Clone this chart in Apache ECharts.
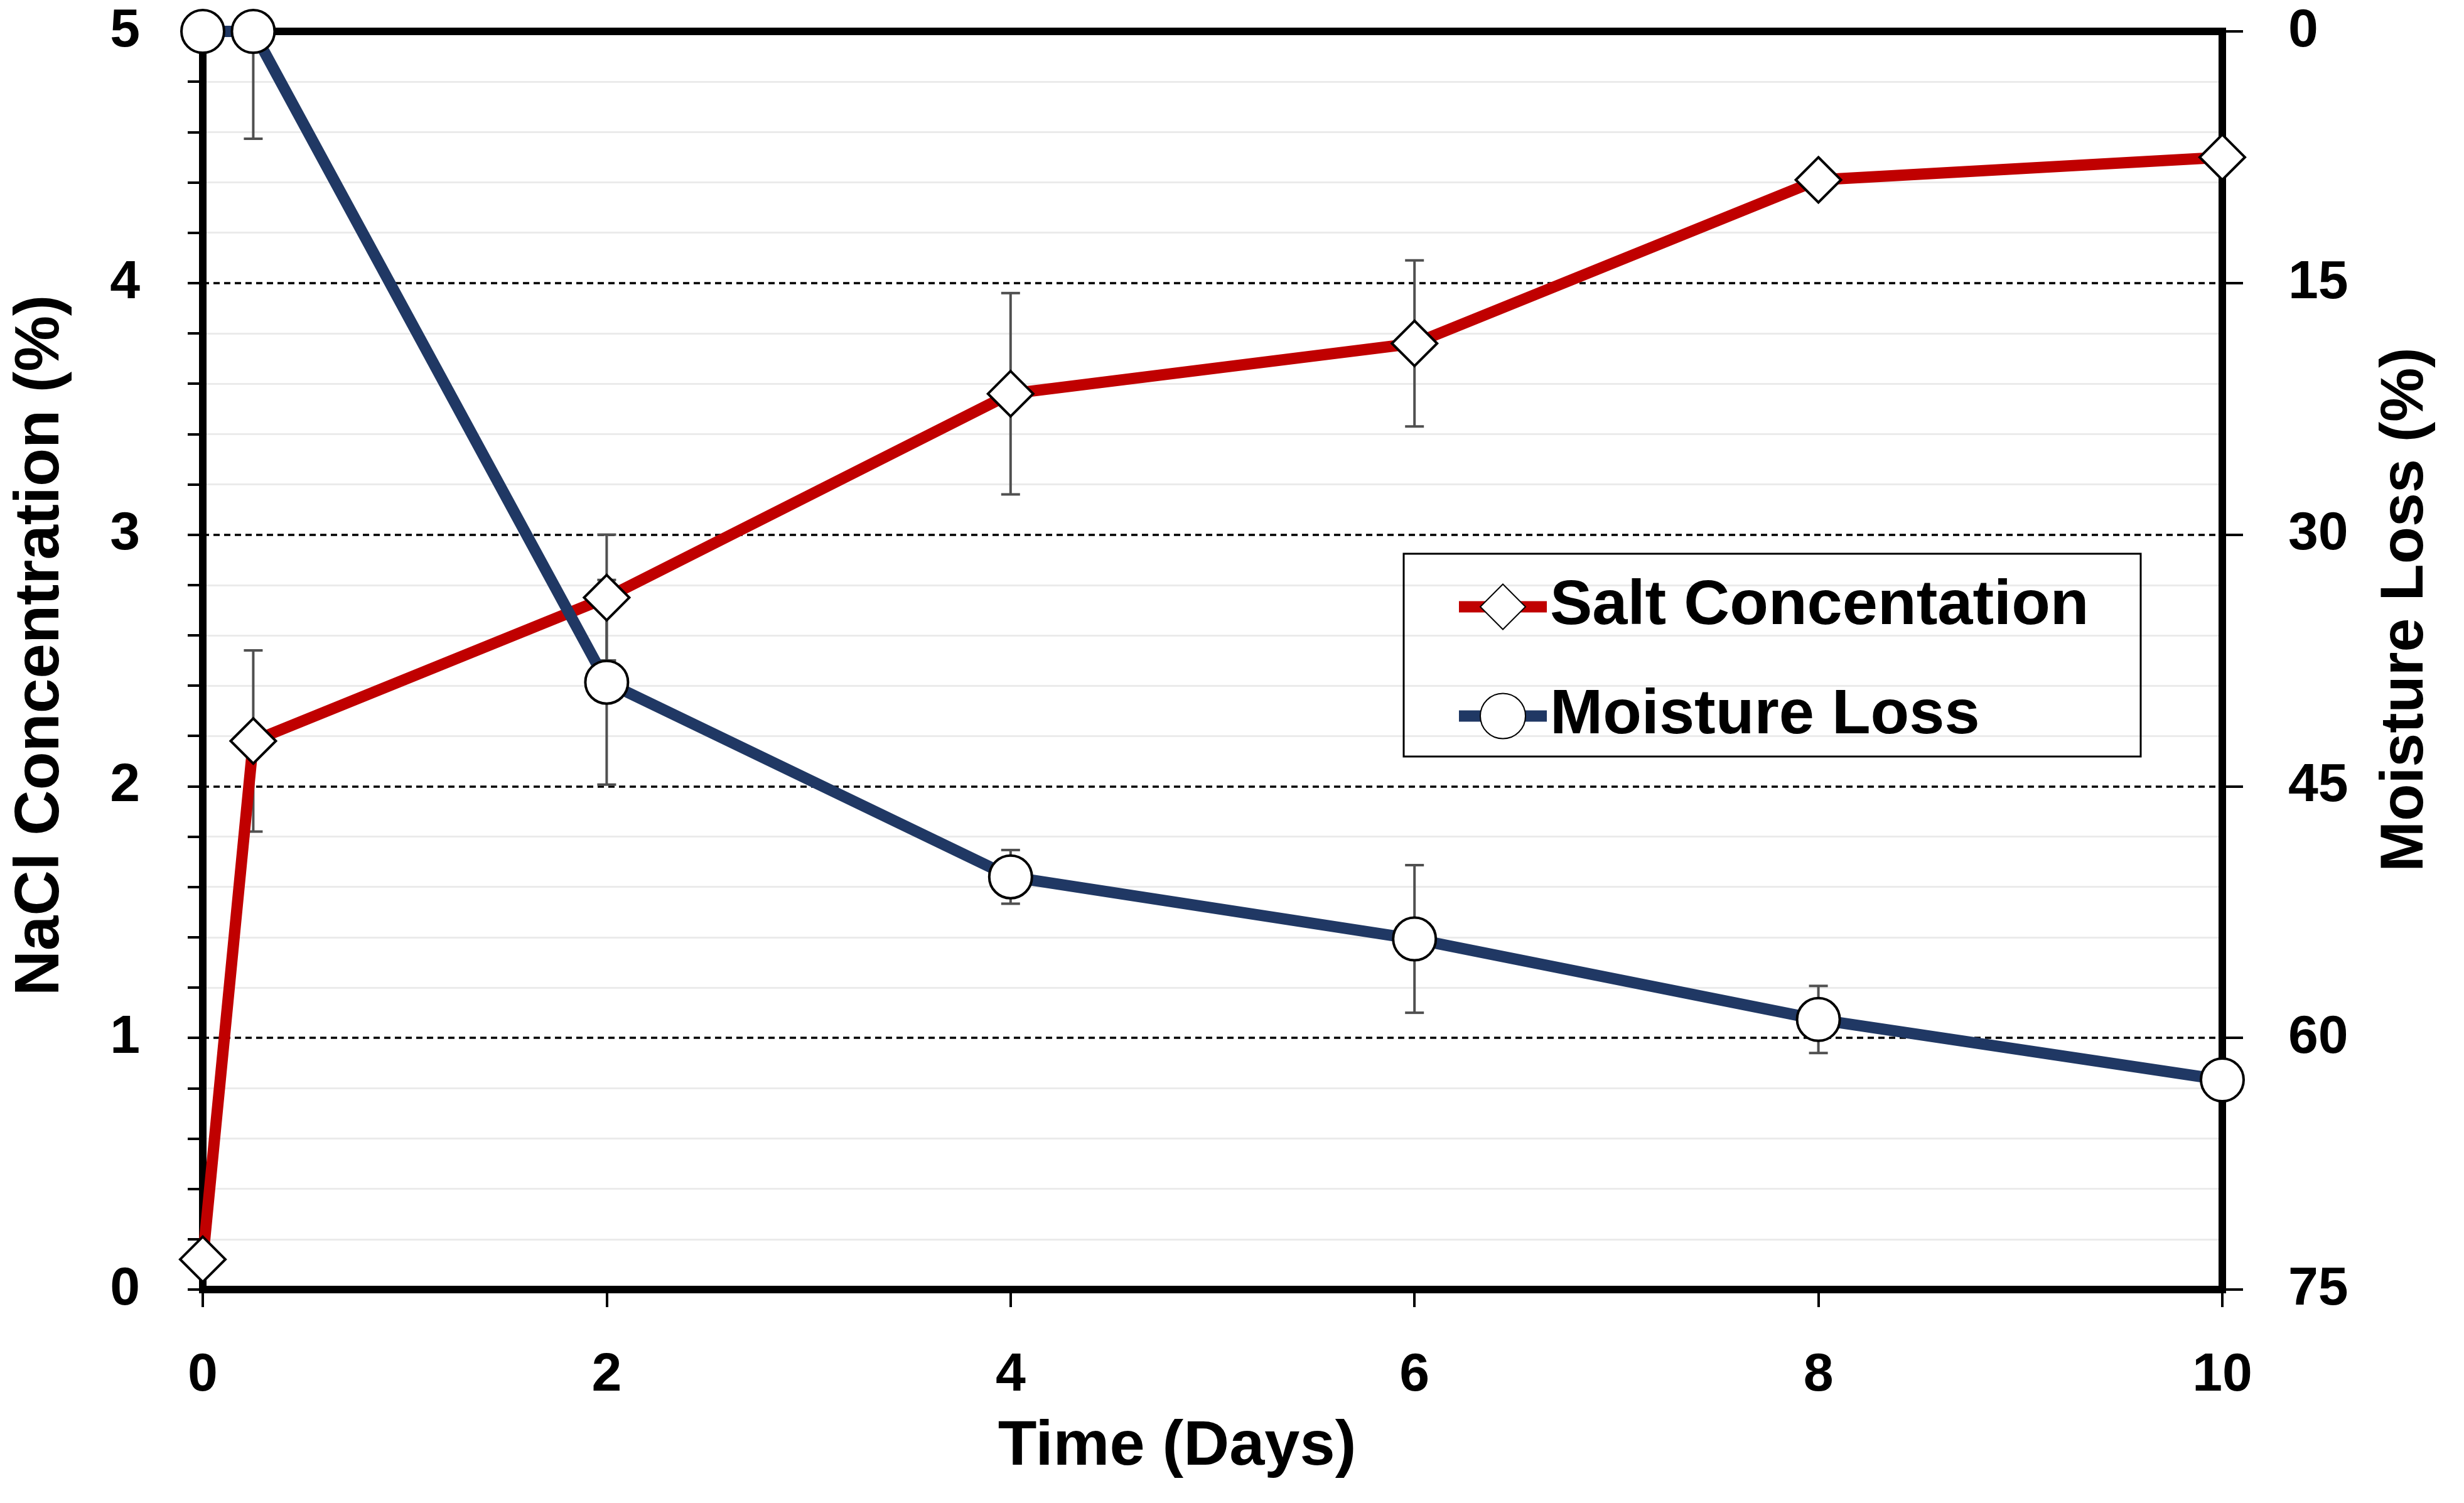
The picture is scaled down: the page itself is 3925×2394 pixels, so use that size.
<!DOCTYPE html>
<html>
<head>
<meta charset="utf-8">
<script src="https://cdn.jsdelivr.net/npm/echarts@6/dist/echarts.min.js"></script>
<style>
html,body{margin:0;padding:0;background:#fff;}
#chart{width:3925px;height:2394px;}
</style>
</head>
<body>
<div id="chart"></div>
<script>
// ---- data ----
const days = [0, 0.25, 2, 4, 6, 8, 10];
const saltConcentration = [0.12, 2.18, 2.75, 3.56, 3.76, 4.41, 4.50];
const saltError = [0, 0.36, 0.25, 0.40, 0.33, 0, 0];
const moistureLoss = [0, 0, 38.8, 50.4, 54.1, 58.9, 62.5];
const moistureError = [0, 6.4, 6.1, 1.6, 4.4, 2.0, 0];
const seriesNames = ['Salt Concentation', 'Moisture Loss'];
const axisTitles = { x: 'Time (Days)', left: 'NaCl Concentration (%)', right: 'Moisture Loss (%)' };

const FONT = "'Liberation Sans', Arial, sans-serif";
const RED = '#C00000';
const BLUE = '#203864';

const saltPts = days.map((d, i) => [d, saltConcentration[i]]);
const moistPts = days.map((d, i) => [d, moistureLoss[i]]);
const saltErr = days.map((d, i) => [d, saltConcentration[i] - saltError[i], saltConcentration[i] + saltError[i]]).filter((r, i) => saltError[i] > 0);
const moistErr = days.map((d, i) => [d, moistureLoss[i] - moistureError[i], moistureLoss[i] + moistureError[i]]).filter((r, i) => moistureError[i] > 0);

function renderErr(params, api) {
  const x = api.value(0), lo = api.value(1), hi = api.value(2);
  const p1 = api.coord([x, hi]);
  const p2 = api.coord([x, lo]);
  const w = 15;
  const st = { stroke: '#505050', lineWidth: 4 };
  return {
    type: 'group',
    children: [
      { type: 'line', shape: { x1: p1[0], y1: p1[1], x2: p2[0], y2: p2[1] }, style: st },
      { type: 'line', shape: { x1: p1[0] - w, y1: p1[1], x2: p1[0] + w, y2: p1[1] }, style: st },
      { type: 'line', shape: { x1: p2[0] - w, y1: p2[1], x2: p2[0] + w, y2: p2[1] }, style: st }
    ]
  };
}

const chart = echarts.init(document.getElementById('chart'), null, { renderer: 'canvas' });
const labelStyle = { color: '#000', fontFamily: FONT, fontWeight: 'bold', fontSize: 86 };

chart.setOption({
  backgroundColor: '#fff',
  animation: false,
  grid: { left: 323, right: 385, top: 50, bottom: 340, show: true, borderColor: '#000', borderWidth: 12, backgroundColor: 'transparent' },
  xAxis: {
    type: 'value', min: 0, max: 10, interval: 2,
    axisLine: { show: true, onZero: false, lineStyle: { color: '#000', width: 12 } },
    axisTick: { show: true, inside: false, length: 28, lineStyle: { color: '#000', width: 4 } },
    axisLabel: Object.assign({ margin: 94 }, labelStyle),
    splitLine: { show: false }
  },
  yAxis: [
    {
      type: 'value', min: 0, max: 5, interval: 1, position: 'left',
      axisLine: { show: true, lineStyle: { color: '#000', width: 12 } },
      axisTick: { show: true, inside: false, length: 24, lineStyle: { color: '#000', width: 4 } },
      minorTick: { show: true, splitNumber: 5, length: 24, lineStyle: { color: '#000', width: 4 } },
      axisLabel: Object.assign({ margin: 100 }, labelStyle),
      splitLine: { show: true, lineStyle: { color: '#000', width: 3.5, type: [10, 7] } },
      minorSplitLine: { show: true, lineStyle: { color: '#ebebeb', width: 3 } }
    },
    {
      type: 'value', min: 0, max: 75, interval: 15, position: 'right', inverse: true,
      axisLine: { show: true, lineStyle: { color: '#000', width: 12 } },
      axisTick: { show: true, inside: false, length: 33, lineStyle: { color: '#000', width: 4 } },
      axisLabel: Object.assign({ margin: 105 }, labelStyle),
      splitLine: { show: false }
    }
  ],
  legend: {
    orient: 'vertical', left: 2315, top: 916,
    itemWidth: 140, itemHeight: 90, itemGap: 73, padding: 0,
    lineStyle: { width: 18 },
    textStyle: { color: '#000', fontFamily: FONT, fontWeight: 'bold', fontSize: 101 },
    data: [
      { name: seriesNames[0], lineStyle: { color: RED, width: 18 } },
      { name: seriesNames[1], lineStyle: { color: BLUE, width: 18 } }
    ]
  },
  graphic: [
    { type: 'rect', shape: { x: 2236, y: 882, width: 1174, height: 323 }, style: { fill: 'rgba(0,0,0,0)', stroke: '#000', lineWidth: 3 }, z: 100, silent: true },
    { type: 'text', x: 1875, y: 2305, style: { text: axisTitles.x, fill: '#000', font: 'bold 101px ' + FONT, align: 'center', verticalAlign: 'middle' } },
    { type: 'text', x: 65, y: 1028, rotation: Math.PI / 2, style: { text: axisTitles.left, fill: '#000', font: 'bold 100px ' + FONT, align: 'center', verticalAlign: 'middle' } },
    { type: 'text', x: 3832, y: 971, rotation: Math.PI / 2, style: { text: axisTitles.right, fill: '#000', font: 'bold 97px ' + FONT, align: 'center', verticalAlign: 'middle' } }
  ],
  series: [
    {
      type: 'custom', name: 'saltErr', xAxisIndex: 0, yAxisIndex: 0, z: 1,
      renderItem: renderErr, data: saltErr, encode: { x: 0, y: [1, 2] }, clip: true, silent: true
    },
    {
      type: 'custom', name: 'moistErr', xAxisIndex: 0, yAxisIndex: 1, z: 1,
      renderItem: renderErr, data: moistErr, encode: { x: 0, y: [1, 2] }, clip: true, silent: true
    },
    {
      type: 'line', name: seriesNames[0], yAxisIndex: 0, data: saltPts, z: 3,
      symbol: 'diamond', symbolSize: [72, 72], clip: false,
      lineStyle: { color: RED, width: 18 },
      itemStyle: { color: '#fff', borderColor: '#000', borderWidth: 4 }
    },
    {
      type: 'line', name: seriesNames[1], yAxisIndex: 1, data: moistPts, z: 4,
      symbol: 'circle', symbolSize: 68, clip: false,
      lineStyle: { color: BLUE, width: 18 },
      itemStyle: { color: '#fff', borderColor: '#000', borderWidth: 4 }
    }
  ]
});
</script>
</body>
</html>
